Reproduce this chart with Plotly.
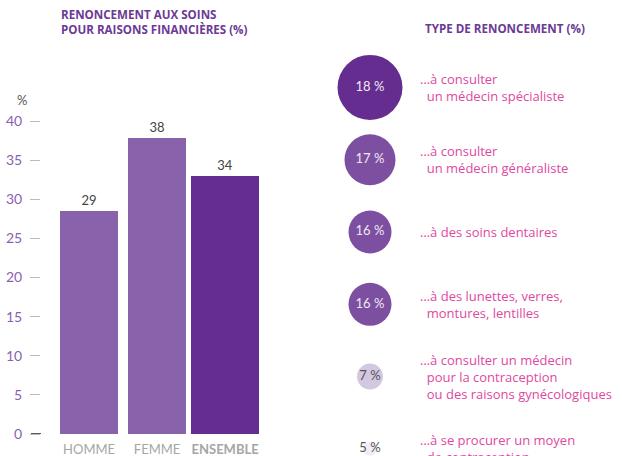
import plotly.graph_objects as go

# ---- data ----
bar_categories = ["HOMME", "FEMME", "ENSEMBLE"]
bar_values = [28.5, 37.8, 33.0]
bar_labels = ["29", "38", "34"]
y_ticks = [0, 5, 10, 15, 20, 25, 30, 35, 40]

type_values = [18, 17, 16, 16, 7, 5]
type_labels = [
    "…à consulter<br>\u00a0\u00a0un médecin spécialiste",
    "…à consulter<br>\u00a0\u00a0un médecin généraliste",
    "…à des soins dentaires",
    "…à des lunettes, verres,<br>\u00a0\u00a0montures, lentilles",
    "…à consulter un médecin<br>\u00a0\u00a0pour la contraception<br>\u00a0\u00a0ou des raisons gynécologiques",
    "…à se procurer un moyen<br>\u00a0\u00a0de contraception",
]

# ---- styles ----
W, H = 622, 456
FONT = "Lato"
FONT2 = "Open Sans"
PURPLE_DARK = "#652d8f"
PURPLE_MID = "#8862aa"
bar_colors = [PURPLE_MID, PURPLE_MID, PURPLE_DARK]
bar_widths = [0.85, 0.85, 1.0]
circle_colors = ["#652d8f", "#7d4fa0", "#7d4fa0", "#7d4fa0", "#d3c8e2", "#f1edf6"]
circle_sizes = [65, 51, 43, 43, 26, 14]
circle_text_colors = ["#efe8f4", "#efe8f4", "#efe8f4", "#efe8f4", "#555555", "#555555"]
PINK = "#e0489f"

fig = go.Figure()

fig.add_trace(go.Bar(
    x=bar_categories, y=bar_values, width=bar_widths,
    marker=dict(color=bar_colors, line=dict(width=0)),
    text=bar_labels, textposition="outside", cliponaxis=False,
    textfont=dict(family=FONT, size=13, color="#444444"),
    xaxis="x", yaxis="y", showlegend=False, hoverinfo="skip",
))

idx = list(range(len(type_values)))
fig.add_trace(go.Scatter(
    x=[0] * len(type_values), y=idx, mode="markers+text",
    marker=dict(size=circle_sizes, color=circle_colors, opacity=1, line=dict(width=0)),
    text=[f"{v} %" for v in type_values], textposition="middle center",
    textfont=dict(family=FONT, size=13, color=circle_text_colors),
    xaxis="x2", yaxis="y2", showlegend=False, hoverinfo="skip", cliponaxis=False,
))

annotations = []
for i, lab in enumerate(type_labels):
    annotations.append(dict(
        x=418 / W, xref="paper", y=i, yref="y2", text=lab, showarrow=False,
        xanchor="left", yanchor="middle", align="left",
        font=dict(family=FONT2, size=13, color=PINK),
    ))

annotations += [
    dict(x=59 / W, y=1 - 5 / H, xref="paper", yref="paper", xanchor="left", yanchor="top",
         align="left", showarrow=False,
         text="<b>RENONCEMENT AUX SOINS<br>POUR RAISONS FINANCIÈRES (%)</b>",
         font=dict(family=FONT2, size=11.6, color="#6b3a96")),
    dict(x=423 / W, y=1 - 19 / H, xref="paper", yref="paper", xanchor="left", yanchor="top",
         align="left", showarrow=False,
         text="<b>TYPE DE RENONCEMENT (%)</b>",
         font=dict(family=FONT2, size=11.6, color="#6b3a96")),
    dict(x=22 / W, y=1 - 100 / H, xref="paper", yref="paper", xanchor="center", yanchor="middle",
         showarrow=False, text="%", font=dict(family=FONT, size=13, color="#555555")),
]

# bar area geometry: y=0 at py=434, 40 at py=121
px_per_unit = (434 - 121) / 40
y_top = 434 / px_per_unit

fig.update_layout(
    width=W, height=H, margin=dict(l=0, r=0, t=0, b=0),
    paper_bgcolor="white", plot_bgcolor="white",
    bargap=0,
    xaxis=dict(domain=[41 / W, 270 / W], range=[-0.706, 2.66], showgrid=False,
               showline=False, zeroline=False, ticks="", automargin=False,
               tickmode="array", tickvals=bar_categories,
               ticktext=["HOMME", "FEMME", "<b>ENSEMBLE</b>"],
               ticklabelstandoff=6,
               tickfont=dict(family=FONT, size=13, color="#a6a6a6")),
    yaxis=dict(domain=[22 / H, 1], range=[0, y_top], showgrid=False, showline=False,
               zeroline=False, tickmode="array", tickvals=y_ticks,
               ticks="outside", ticklen=10, tickwidth=1, tickcolor="#bbbbbb",
               ticklabelstandoff=5, automargin=False,
               tickfont=dict(family=FONT, size=14, color="#8a5fb0")),
    xaxis2=dict(domain=[330 / W, 410 / W], range=[-1, 1], visible=False),
    yaxis2=dict(domain=[0, 1], range=[(456 - 87.4) / 72.3, -87.4 / 72.3], visible=False,
                anchor="x2"),
    annotations=annotations,
)

# black tick at zero
fig.add_shape(type="line", xref="paper", yref="y", x0=31 / W, x1=41 / W, y0=0, y1=0,
              line=dict(color="#222222", width=1.5))

fig.write_html("out.html", config={"displayModeBar": False},
               post_script="document.body.style.margin='0';")
